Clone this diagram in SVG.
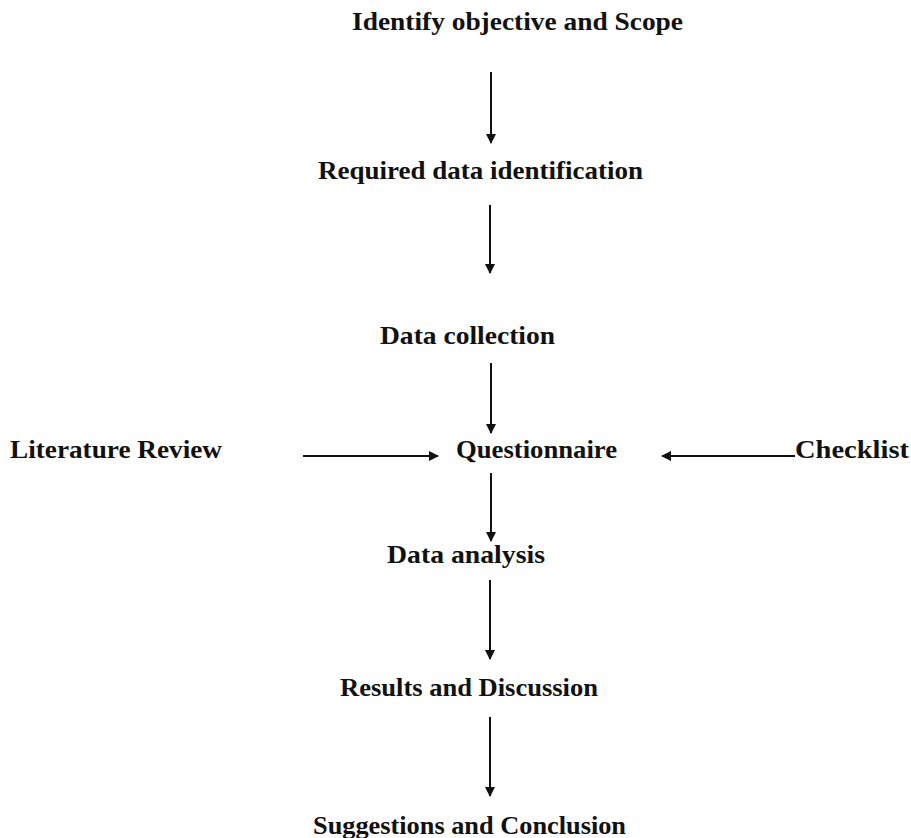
<svg xmlns="http://www.w3.org/2000/svg" width="911" height="838" viewBox="0 0 911 838">
<style>
text{font-family:"Liberation Serif","Times New Roman",serif;font-weight:bold;font-size:25px;fill:#111}
.c{text-anchor:middle}
line{stroke:#111;stroke-width:2}
</style>
<defs>
<marker id="ah" markerWidth="10" markerHeight="10" refX="9" refY="5" orient="auto" markerUnits="userSpaceOnUse">
<path d="M0,0 L10,5 L0,10 Z" fill="#111"/>
</marker>
</defs>
<rect width="911" height="838" fill="#fff"/>
<g id="n1"><text class="c" x="517.5" y="30" textLength="331" lengthAdjust="spacingAndGlyphs">Identify objective and Scope</text></g>
<g id="n2"><text class="c" x="480.5" y="179" textLength="325" lengthAdjust="spacingAndGlyphs">Required data identification</text></g>
<g id="n3"><text class="c" x="467.5" y="344" textLength="175" lengthAdjust="spacingAndGlyphs">Data collection</text></g>
<g id="n4"><text x="10" y="458" textLength="212" lengthAdjust="spacingAndGlyphs">Literature Review</text></g>
<g id="n5"><text class="c" x="536.5" y="458" textLength="161" lengthAdjust="spacingAndGlyphs">Questionnaire</text></g>
<g id="n6"><text x="795" y="458" textLength="114" lengthAdjust="spacingAndGlyphs">Checklist</text></g>
<g id="n7"><text class="c" x="466" y="563" textLength="158" lengthAdjust="spacingAndGlyphs">Data analysis</text></g>
<g id="n8"><text class="c" x="469" y="696" textLength="258" lengthAdjust="spacingAndGlyphs">Results and Discussion</text></g>
<g id="n9"><text class="c" x="469.5" y="834" textLength="313" lengthAdjust="spacingAndGlyphs">Suggestions and Conclusion</text></g>
<g id="connectors">
<line x1="491" y1="72" x2="491" y2="143" marker-end="url(#ah)"/>
<line x1="490" y1="205" x2="490" y2="273" marker-end="url(#ah)"/>
<line x1="491" y1="363" x2="491" y2="433" marker-end="url(#ah)"/>
<line x1="303" y1="456" x2="438" y2="456" marker-end="url(#ah)"/>
<line x1="795" y1="456" x2="662" y2="456" marker-end="url(#ah)"/>
<line x1="491" y1="473" x2="491" y2="541" marker-end="url(#ah)"/>
<line x1="490" y1="580" x2="490" y2="659" marker-end="url(#ah)"/>
<line x1="490" y1="717" x2="490" y2="796" marker-end="url(#ah)"/>
</g>
</svg>
